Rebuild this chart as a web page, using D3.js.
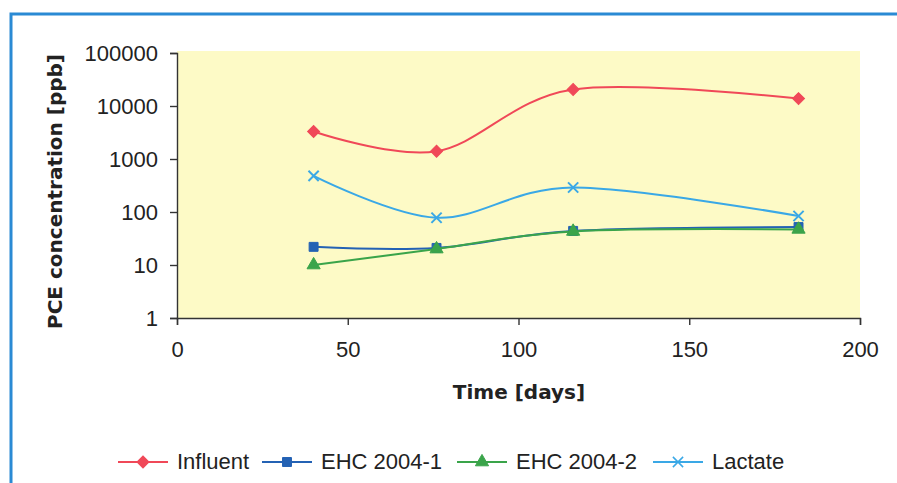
<!DOCTYPE html>
<title>PCE concentration over time</title>
<style>
  body { margin: 0; background: #fff; }
</style>
<svg width="897" height="483"></svg>
<script src="https://d3js.org/d3.v7.min.js"></script>
<script>

// values
var days = [40, 76, 116, 182];
var influent = [3300, 1400, 20500, 13800];
var ehc1 = [22, 21, 44, 52];
var ehc2 = [10, 20, 43, 47];
var lactate = [480, 78, 290, 84];

var seriesNames = ["Influent", "EHC 2004-1", "EHC 2004-2", "Lactate"];
var yTicks = [1, 10, 100, 1000, 10000, 100000];
var xTicks = [0, 50, 100, 150, 200];

var svg = d3.select("svg"),
    width = +svg.attr("width"),
    height = +svg.attr("height");

var margin = {left: 177, right: 37, top: 53, bottom: 165};

var x = d3.scaleLinear()
    .domain([0, 200])
    .range([margin.left, width - margin.right]);

var y = d3.scaleLog()
    .domain([1, 100000])
    .range([height - margin.bottom, margin.top]);

var color = d3.scaleOrdinal()
    .domain(seriesNames)
    .range(["#f04858", "#2462b4", "#3aa44a", "#3aa8e6"]);

// influent diamond is a square turned 45 degrees
var symbols = {
  "Influent": d3.symbolSquare,
  "EHC 2004-1": d3.symbolSquare,
  "EHC 2004-2": d3.symbolTriangle,
  "Lactate": d3.symbolTimes
};
var symbolSize = {"Influent": 72, "EHC 2004-1": 80, "EHC 2004-2": 75, "Lactate": 70};
var symbolTurn = function(name) { return name == "Influent" ? " rotate(45)" : ""; };

var series = [influent, ehc1, ehc2, lactate].map(function(vals, i) {
  return {name: seriesNames[i], values: vals.map(function(v, j) { return {day: days[j], value: v}; })};
});

// outer frame
svg.append("rect")
    .attr("x", 11).attr("y", 14)
    .attr("width", 900).attr("height", 490)
    .attr("fill", "none")
    .attr("stroke", "#2a8ad4")
    .attr("stroke-width", 3);

// plot background
svg.append("rect")
    .attr("x", x(0)).attr("y", y(100000) - 2)
    .attr("width", x(200) - x(0))
    .attr("height", y(1) - y(100000) + 2)
    .attr("fill", "#fdfac6");

// axes
var yAxis = svg.append("g")
    .attr("transform", "translate(" + x(0) + ",0)")
    .call(d3.axisLeft(y).tickValues(yTicks).tickFormat(d3.format("d")).tickSize(7).tickPadding(12));

var xAxis = svg.append("g")
    .attr("transform", "translate(0," + y(1) + ")")
    .call(d3.axisBottom(x).tickValues(xTicks).tickSize(7).tickPadding(16));

[xAxis, yAxis].forEach(function(g) {
  g.select(".domain").attr("stroke", "#333").attr("stroke-width", 1.4);
  g.selectAll(".tick line").attr("stroke", "#333").attr("stroke-width", 1.4);
  g.selectAll(".tick text")
      .attr("fill", "#222")
      .style("font-family", "'Liberation Sans', Arial, sans-serif")
      .style("font-size", "22px");
});

// axis titles
svg.append("text")
    .attr("transform", "translate(62," + ((y(1) + y(100000)) / 2 + 6) + ") rotate(-90)")
    .attr("text-anchor", "middle")
    .style("font-family", "'DejaVu Sans', sans-serif")
    .style("font-weight", "bold")
    .style("font-size", "20px")
    .attr("fill", "#222")
    .text("PCE concentration [ppb]");

svg.append("text")
    .attr("x", 519).attr("y", 399)
    .attr("text-anchor", "middle")
    .style("font-family", "'DejaVu Sans', sans-serif")
    .style("font-weight", "bold")
    .style("font-size", "20px")
    .attr("fill", "#222")
    .text("Time [days]");

// smoothed lines like the spreadsheet chart
var line = d3.line()
    .x(function(d) { return x(d.day); })
    .y(function(d) { return y(d.value); })
    .curve(d3.curveCardinal.tension(0));

var seriesG = svg.append("g").selectAll("g")
    .data(series)
    .enter().append("g");

seriesG.append("path")
    .attr("d", function(d) { return line(d.values); })
    .attr("fill", "none")
    .attr("stroke", function(d) { return color(d.name); })
    .attr("stroke-width", 2);

seriesG.selectAll("path.mark")
    .data(function(d) { return d.values.map(function(v) { return {name: d.name, day: v.day, value: v.value}; }); })
    .enter().append("path")
      .attr("class", "mark")
      .attr("transform", function(d) { return "translate(" + x(d.day) + "," + y(d.value) + ")" + symbolTurn(d.name); })
      .attr("d", function(d) { return d3.symbol().type(symbols[d.name]).size(symbolSize[d.name])(); })
      .attr("fill", function(d) { return d.name == "Lactate" ? "none" : color(d.name); })
      .attr("stroke", function(d) { return color(d.name); })
      .attr("stroke-width", function(d) { return d.name == "Lactate" ? 2 : 1; });

// legend
var legendX = [118, 262, 457, 653];
var legend = svg.append("g").selectAll("g")
    .data(seriesNames)
    .enter().append("g")
      .attr("transform", function(d, i) { return "translate(" + legendX[i] + ",462)"; });

legend.append("line")
    .attr("x1", 0).attr("x2", 50)
    .attr("stroke", function(d) { return color(d); })
    .attr("stroke-width", 2);

legend.append("path")
    .attr("transform", function(d) { return "translate(25,0)" + symbolTurn(d); })
    .attr("d", function(d) { return d3.symbol().type(symbols[d]).size(symbolSize[d])(); })
    .attr("fill", function(d) { return d == "Lactate" ? "none" : color(d); })
    .attr("stroke", function(d) { return color(d); })
    .attr("stroke-width", function(d) { return d == "Lactate" ? 1.5 : 1; });

legend.append("text")
    .attr("x", 59)
    .attr("y", 7)
    .style("font-family", "'Liberation Sans', Arial, sans-serif")
    .style("font-size", "22px")
    .attr("fill", "#222")
    .text(function(d) { return d; });

</script>
